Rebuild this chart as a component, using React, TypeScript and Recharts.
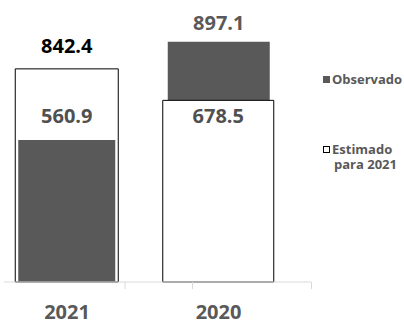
import React from "react";
import { BarChart, Bar, XAxis, YAxis, Legend, LabelList } from "recharts";

const years = ["2021", "2020"];
const estimado = [842.4, 678.5];
const observado = [560.9, 897.1];
const legendNames = ["Observado", "Estimado para 2021"];

// each year is drawn on its own y scale, like in the source picture
const data = years.map((year, i) => ({
  year,
  estA: i === 0 ? estimado[i] : null,
  obsA: i === 0 ? observado[i] : null,
  obsB: i === 1 ? observado[i] : null,
  estB: i === 1 ? estimado[i] : null,
}));

const FONT = "'Open Sans', sans-serif";
const DARK = "#595959";
const GREY_TEXT = "#505050";
const AXIS = "#d9d9d9";

const pad = { left: -12.75, right: 16.75 };
const TICK_GAP = 22;

// the original has its small tick marks off the bar centres
const tickMarks: Record<number, number[]> = { 0: [58], 1: [-26, 93] };

const YearTick = (props: any) => {
  const { x, y, payload, index } = props;
  const axisY = y - TICK_GAP;
  return (
    <g>
      {(tickMarks[index] || []).map((dx) => (
        <line key={dx} x1={x + dx} x2={x + dx} y1={axisY} y2={axisY + 7} stroke={AXIS} />
      ))}
      <text
        x={x}
        y={y + 14.5}
        textAnchor="middle"
        fontFamily={FONT}
        fontWeight={700}
        fontSize={20}
        fill={DARK}
      >
        {payload.value}
      </text>
    </g>
  );
};

const renderLegend = (props: any) => {
  const items = (props.payload || [])
    .filter((p: any) => p.type !== "none")
    .sort((a: any, b: any) => legendNames.indexOf(a.value) - legendNames.indexOf(b.value));
  return (
    <svg width={86} height={110} style={{ display: "block" }}>
      {items.map((item: any) => {
        const isDark = item.value === legendNames[0];
        const y = isDark ? 6 : 76;
        const words = String(item.value).split(" ");
        const lines = isDark ? [item.value] : [words[0], words.slice(1).join(" ")];
        return (
          <g key={item.value}>
            <rect
              x={isDark ? 3 : 3.5}
              y={isDark ? y : y + 0.5}
              width={isDark ? 7 : 6}
              height={isDark ? 7 : 6}
              fill={isDark ? DARK : "#fff"}
              stroke={isDark ? "none" : "#000"}
              strokeWidth={1}
            />
            {lines.map((l: string, k: number) => (
              <text
                key={k}
                x={k === 0 ? 12 : 14}
                y={y + 8 + k * 14.5}
                fontFamily={FONT}
                fontWeight={700}
                fontSize={13}
                fill={DARK}
              >
                {l}
              </text>
            ))}
          </g>
        );
      })}
    </svg>
  );
};

export default function App() {
  const labelStyle = { fontFamily: FONT, fontWeight: 700, fontSize: 20 };
  return (
    <div style={{ position: "absolute", left: 0, top: 0 }}>
      <BarChart
        width={404}
        height={322}
        data={data}
        margin={{ top: 29, right: 93, bottom: 10, left: 4 }}
      >
        <XAxis
          xAxisId="a"
          dataKey="year"
          padding={pad}
          axisLine={{ stroke: AXIS, strokeWidth: 1 }}
          tickLine={false}
          tickSize={6}
          tickMargin={TICK_GAP - 6}
          height={30}
          tick={<YearTick />}
          interval={0}
        />
        <XAxis xAxisId="b" dataKey="year" padding={pad} hide />
        <XAxis xAxisId="c" dataKey="year" padding={pad} hide />
        <XAxis xAxisId="d" dataKey="year" padding={pad} hide />
        <YAxis yAxisId="y21" domain={[0, 1000]} hide />
        <YAxis yAxisId="y20" domain={[0, 945]} hide />
        <Legend
          verticalAlign="middle"
          align="center"
          layout="horizontal"
          content={renderLegend}
          wrapperStyle={{ position: "absolute", left: 320, top: 70, width: 86 }}
        />
        <Bar
          dataKey="estA"
          name={legendNames[1]}
          xAxisId="a"
          yAxisId="y21"
          barSize={103}
          fill="#fff"
          stroke="#000"
          strokeWidth={1}
          isAnimationActive={false}
          legendType="none"
        >
          <LabelList dataKey="estA" position="top" offset={16} fill="#000" style={labelStyle} />
        </Bar>
        <Bar
          dataKey="obsA"
          name={legendNames[0]}
          xAxisId="b"
          yAxisId="y21"
          barSize={97}
          fill={DARK}
          isAnimationActive={false}
        >
          <LabelList dataKey="obsA" position="top" offset={17} fill={GREY_TEXT} style={labelStyle} />
        </Bar>
        <Bar
          dataKey="obsB"
          name={legendNames[0]}
          xAxisId="c"
          yAxisId="y20"
          barSize={102}
          fill={DARK}
          isAnimationActive={false}
          legendType="none"
        >
          <LabelList dataKey="obsB" position="top" offset={12} fill={DARK} style={labelStyle} />
        </Bar>
        <Bar
          dataKey="estB"
          name={legendNames[1]}
          xAxisId="d"
          yAxisId="y20"
          barSize={111}
          fill="#fff"
          stroke="#000"
          strokeWidth={1}
          isAnimationActive={false}
        >
          <LabelList dataKey="estB" position="insideTop" offset={8} fill={GREY_TEXT} style={labelStyle} />
        </Bar>
      </BarChart>
    </div>
  );
}
